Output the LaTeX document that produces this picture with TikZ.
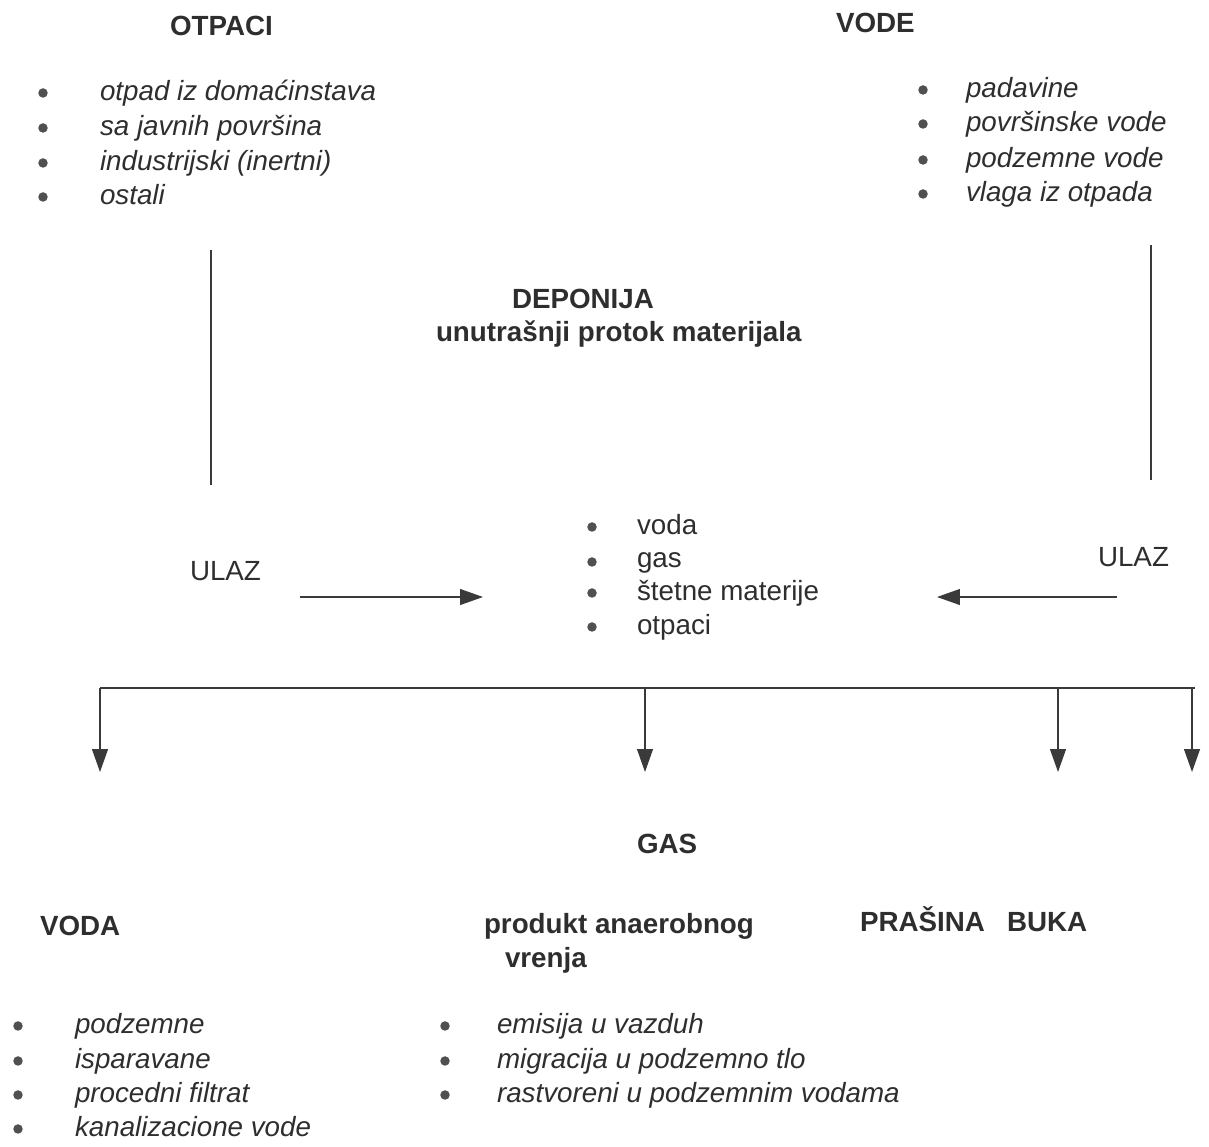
\documentclass[tikz,border=0pt]{standalone}
\usepackage{fontspec}
\setmainfont{Liberation Sans}
\usetikzlibrary{arrows.meta}
\definecolor{ink}{HTML}{2E2E2E}
\definecolor{dotgray}{HTML}{505050}
\definecolor{wiregray}{HTML}{3A3A3A}

\begin{document}
\begin{tikzpicture}[x=0.02cm, y=-0.02cm, inner sep=0, outer sep=0,
  txt/.style={font=\fontsize{15.8}{19}\selectfont, text=ink, anchor=base west},
  head/.style={txt, font=\fontsize{15.8}{19}\selectfont\bfseries},
  item/.style={txt, font=\fontsize{15.8}{19}\selectfont\itshape},
  dot/.style={circle, fill=dotgray, minimum size=5.4pt, yshift=4pt},
  wire/.style={draw=wiregray, line width=0.8pt},
  tip/.style={wire, -{Triangle[length=13pt, width=9pt]}}]
  \useasboundingbox (0,0) rectangle (1209,1146);

  % headings, top
  \node[head] (otpaci) at (170,35) {OTPACI};
  \node[head] (vode) at (836,32) {VODE};
  \node[head] (deponija) at (512,308) {DEPONIJA};
  \node[head] (protok) at (436,341) {unutrašnji protok materijala};

  % waste list
  \node[dot] (ob1) at (43,100) {};
  \node[item] (o1) at (100,100) {otpad iz domaćinstava};
  \node[dot] (ob2) at (43,135) {};
  \node[item] (o2) at (100,135) {sa javnih površina};
  \node[dot] (ob3) at (43,170) {};
  \node[item] (o3) at (100,170) {industrijski (inertni)};
  \node[dot] (ob4) at (43,204) {};
  \node[item] (o4) at (100,204) {ostali};

  % water list
  \node[dot] (vb1) at (923,97) {};
  \node[item] (v1) at (966,97) {padavine};
  \node[dot] (vb2) at (923,131) {};
  \node[item] (v2) at (966,131) {površinske vode};
  \node[dot] (vb3) at (923,167) {};
  \node[item] (v3) at (966,167) {podzemne vode};
  \node[dot] (vb4) at (923,201) {};
  \node[item] (v4) at (966,201) {vlaga iz otpada};

  % inputs
  \node[txt] (ulazL) at (190,580) {ULAZ};
  \node[txt] (ulazR) at (1098,566) {ULAZ};

  % landfill content
  \node[dot] (db1) at (592,534) {};
  \node[txt] (d1) at (637,534) {voda};
  \node[dot] (db2) at (592,569) {};
  \node[txt] (d2) at (637,567) {gas};
  \node[dot] (db3) at (592,600) {};
  \node[txt] (d3) at (637,600) {štetne materije};
  \node[dot] (db4) at (592,634) {};
  \node[txt] (d4) at (637,634) {otpaci};

  % connector ends
  \coordinate (lvTop) at (211,250);
  \coordinate (lvBot) at (211,485);
  \coordinate (rvTop) at (1151,245);
  \coordinate (rvBot) at (1151,480);
  \coordinate (inL) at (300,597);
  \coordinate (inLtip) at (483,597);
  \coordinate (inR) at (1117,597);
  \coordinate (inRtip) at (937,597);
  \coordinate (barL) at (100,688);
  \coordinate (barR) at (1195,688);
  \coordinate (out1) at (100,772);
  \coordinate (out2) at (645,772);
  \coordinate (out3) at (1058,772);
  \coordinate (out4) at (1192,772);

  \draw[wire] (lvTop) -- (lvBot);
  \draw[wire] (rvTop) -- (rvBot);
  \draw[tip] (inL) -- (inLtip);
  \draw[tip] (inR) -- (inRtip);
  \draw[wire, line width=1.3pt] (barL) -- (barR);
  \draw[tip] (barL) -- (out1);
  \draw[tip] (out2 |- barL) -- (out2);
  \draw[tip] (out3 |- barL) -- (out3);
  \draw[tip] (out4 |- barL) -- (out4);

  % outputs
  \node[head] (gas) at (637,853) {GAS};
  \node[head] (voda) at (40,935) {VODA};
  \node[head] (produkt) at (484,933) {produkt anaerobnog};
  \node[head] (vrenja) at (505,967) {vrenja};
  \node[head] (prasina) at (860,931) {PRAŠINA};
  \node[head] (buka) at (1007,931) {BUKA};

  % water output list
  \node[dot] (wb1) at (18,1033) {};
  \node[item] (w1) at (75,1033) {podzemne};
  \node[dot] (wb2) at (18,1068) {};
  \node[item] (w2) at (75,1068) {isparavane};
  \node[dot] (wb3) at (18,1102) {};
  \node[item] (w3) at (75,1102) {procedni filtrat};
  \node[dot] (wb4) at (18,1136) {};
  \node[item] (w4) at (75,1136) {kanalizacione vode};

  % gas output list
  \node[dot] (gb1) at (445,1033) {};
  \node[item] (g1) at (497,1033) {emisija u vazduh};
  \node[dot] (gb2) at (445,1068) {};
  \node[item] (g2) at (497,1068) {migracija u podzemno tlo};
  \node[dot] (gb3) at (445,1102) {};
  \node[item] (g3) at (497,1102) {rastvoreni u podzemnim vodama};
\end{tikzpicture}
\end{document}
